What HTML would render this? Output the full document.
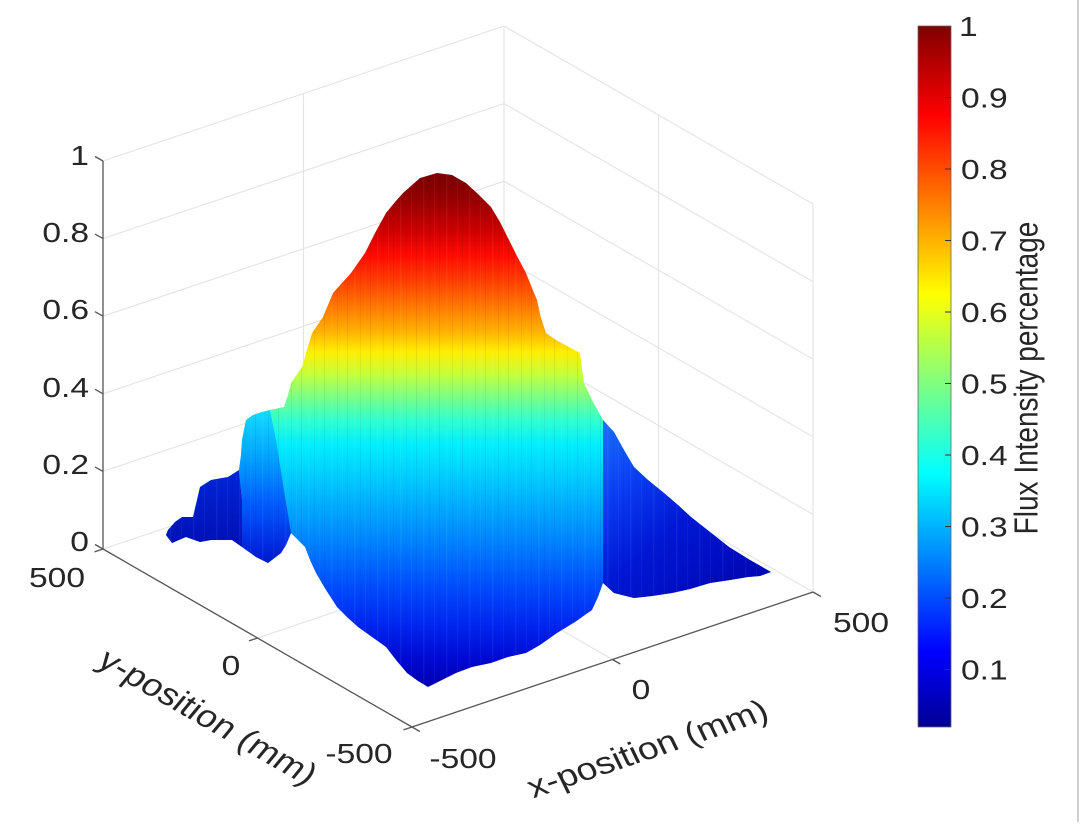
<!DOCTYPE html>
<html>
<head>
<meta charset="utf-8">
<style>
  html, body { margin:0; padding:0; background:#ffffff; }
  svg { display:block; }
  text { font-family: "Liberation Sans", Arial, Helvetica, sans-serif; fill:#262626; }
</style>
</head>
<body>
<svg width="1089" height="827" viewBox="0 0 1089 827" xmlns="http://www.w3.org/2000/svg">
  <defs>
    <linearGradient id="mainG" gradientUnits="userSpaceOnUse" x1="0" y1="173" x2="0" y2="690">
      <stop offset="0" stop-color="#780000"/>
      <stop offset="0.052" stop-color="#960000"/>
      <stop offset="0.110" stop-color="#cc0000"/>
      <stop offset="0.159" stop-color="#ff0a00"/>
      <stop offset="0.207" stop-color="#ff3c00"/>
      <stop offset="0.255" stop-color="#ff7400"/>
      <stop offset="0.304" stop-color="#ffae00"/>
      <stop offset="0.346" stop-color="#ffee00"/>
      <stop offset="0.390" stop-color="#c4ff3c"/>
      <stop offset="0.439" stop-color="#70ff8e"/>
      <stop offset="0.478" stop-color="#30ffcf"/>
      <stop offset="0.526" stop-color="#00eeff"/>
      <stop offset="0.584" stop-color="#00ceff"/>
      <stop offset="0.652" stop-color="#00a6ff"/>
      <stop offset="0.720" stop-color="#007eff"/>
      <stop offset="0.797" stop-color="#004eff"/>
      <stop offset="0.874" stop-color="#0026f0"/>
      <stop offset="0.942" stop-color="#0008d2"/>
      <stop offset="1" stop-color="#0000ae"/>
    </linearGradient>
    <linearGradient id="ridgeG" gradientUnits="userSpaceOnUse" x1="0" y1="410" x2="0" y2="563">
      <stop offset="0" stop-color="#14dcff"/>
      <stop offset="0.33" stop-color="#009eff"/>
      <stop offset="0.59" stop-color="#0060ff"/>
      <stop offset="0.85" stop-color="#0030e6"/>
      <stop offset="1" stop-color="#0018cc"/>
    </linearGradient>
    <linearGradient id="plateauG" gradientUnits="userSpaceOnUse" x1="0" y1="470" x2="0" y2="545">
      <stop offset="0" stop-color="#0026d8"/>
      <stop offset="1" stop-color="#0010b8"/>
    </linearGradient>
    <linearGradient id="wingG" gradientUnits="userSpaceOnUse" x1="600" y1="430" x2="730" y2="585">
      <stop offset="0" stop-color="#1a6cff"/>
      <stop offset="0.3" stop-color="#0a3cf2"/>
      <stop offset="0.6" stop-color="#0018d6"/>
      <stop offset="1" stop-color="#0008b8"/>
    </linearGradient>
    <linearGradient id="cbarG" x1="0" y1="0" x2="0" y2="1">
      <stop offset="0" stop-color="#800000"/>
      <stop offset="0.1276" stop-color="#ff0000"/>
      <stop offset="0.3827" stop-color="#ffff00"/>
      <stop offset="0.6378" stop-color="#00ffff"/>
      <stop offset="0.8929" stop-color="#0000ff"/>
      <stop offset="1" stop-color="#000094"/>
    </linearGradient>
    <pattern id="streaks" patternUnits="userSpaceOnUse" width="23" height="827">
      <rect x="2" y="0" width="1" height="827" fill="#000040" opacity="0.07"/>
      <rect x="9" y="0" width="1.5" height="827" fill="#ffffff" opacity="0.05"/>
      <rect x="15" y="0" width="1" height="827" fill="#000040" opacity="0.05"/>
      <rect x="20" y="0" width="1" height="827" fill="#ffffff" opacity="0.04"/>
    </pattern>
    <clipPath id="surfClip">
      <path d="M437,173 L452,175 466,183 478,194 491,207 500,222 509,240 518,258 526,273 532,288 537,300 541,318 546,333 556,340 569,347 580,353 582,368 584,383 592,400 603,420 614,432 624,450 634,467 648,480 664,493 678,505 691,517 710,532 729,547 750,560 771,572 760,576 748,577 730,580 710,583 690,589 672,593 652,596 634,598 614,593 603,583 598,597 592,610 575,622 557,633 540,645 526,653 508,657 491,663 472,667 456,673 442,680 428,687 418,681 407,673 396,660 386,647 372,637 358,627 347,617 337,607 326,590 316,573 310,560 305,547 291,533 286,545 281,553 268,563 256,557 242,547 232,540 225,540 211,540 200,542 186,537 172,543 166,535 168,530 175,522 182,517 193,517 197,500 200,487 211,480 228,477 239,470 241,455 242,440 246,420 253,415 262,412 270,410 284,407 288,395 291,383 302,367 307,350 312,333 323,317 333,293 342,283 351,273 358,263 365,253 375,233 386,213 395,202 403,193 420,178 Z"/>
    </clipPath>
  </defs>

  <!-- right border line -->
  <line x1="1078" y1="0" x2="1078" y2="822" stroke="#d0d0d0" stroke-width="2"/>

  <!-- grid lines -->
  <g stroke="#e3e3e3" stroke-width="1.1" fill="none">
    <line x1="103" y1="549" x2="504" y2="414"/>
    <line x1="103" y1="471.4" x2="504" y2="336.4"/>
    <line x1="103" y1="393.8" x2="504" y2="258.8"/>
    <line x1="103" y1="316.2" x2="504" y2="181.2"/>
    <line x1="103" y1="238.6" x2="504" y2="103.6"/>
    <line x1="103" y1="161" x2="504" y2="26"/>
    <line x1="504" y1="414" x2="813" y2="592"/>
    <line x1="504" y1="336.4" x2="813" y2="514.4"/>
    <line x1="504" y1="258.8" x2="813" y2="436.8"/>
    <line x1="504" y1="181.2" x2="813" y2="359.2"/>
    <line x1="504" y1="103.6" x2="813" y2="281.6"/>
    <line x1="504" y1="26" x2="813" y2="204"/>
    <line x1="303.5" y1="481.5" x2="303.5" y2="93.5"/>
    <line x1="504" y1="414" x2="504" y2="26"/>
    <line x1="658.5" y1="503" x2="658.5" y2="115"/>
    <line x1="813" y1="592" x2="813" y2="204"/>
    <line x1="303.5" y1="481.5" x2="612.5" y2="659.5"/>
    <line x1="257.5" y1="638" x2="658.5" y2="503"/>
  </g>

  <!-- surface -->
  <path fill="url(#mainG)" d="M437,173 L452,175 466,183 478,194 491,207 500,222 509,240 518,258 526,273 532,288 537,300 541,318 546,333 556,340 569,347 580,353 582,368 584,383 592,400 603,420 614,432 624,450 634,467 648,480 664,493 678,505 691,517 710,532 729,547 750,560 771,572 760,576 748,577 730,580 710,583 690,589 672,593 652,596 634,598 614,593 603,583 598,597 592,610 575,622 557,633 540,645 526,653 508,657 491,663 472,667 456,673 442,680 428,687 418,681 407,673 396,660 386,647 372,637 358,627 347,617 337,607 326,590 316,573 310,560 305,547 291,533 286,545 281,553 268,563 256,557 242,547 232,540 225,540 211,540 200,542 186,537 172,543 166,535 168,530 175,522 182,517 193,517 197,500 200,487 211,480 228,477 239,470 241,455 242,440 246,420 253,415 262,412 270,410 284,407 288,395 291,383 302,367 307,350 312,333 323,317 333,293 342,283 351,273 358,263 365,253 375,233 386,213 395,202 403,193 420,178 Z"/>
  <path fill="url(#plateauG)" d="M166,535 L168,530 175,522 182,517 193,517 197,500 200,487 211,480 228,477 239,470 242,500 242,547 232,540 225,540 211,540 200,542 186,537 172,543 Z"/>
  <path fill="url(#ridgeG)" d="M239,470 L241,455 242,440 246,420 253,415 262,412 270,410 276,440 284,490 291,533 286,545 281,553 268,563 256,557 242,547 242,500 Z"/>
  <path fill="url(#wingG)" d="M603,420 L614,432 624,450 634,467 648,480 664,493 678,505 691,517 710,532 729,547 750,560 771,572 760,576 748,577 730,580 710,583 690,589 672,593 652,596 634,598 614,593 603,583 Z"/>
  <rect x="160" y="170" width="620" height="520" fill="url(#streaks)" clip-path="url(#surfClip)"/>

  <!-- axes lines -->
  <g stroke="#555555" stroke-width="1.3" fill="none">
    <line x1="103" y1="549" x2="103" y2="161"/>
    <line x1="103" y1="549" x2="412" y2="727"/>
    <line x1="412" y1="727" x2="813" y2="592"/>
    <line x1="103" y1="549" x2="95" y2="544.5"/>
    <line x1="103" y1="471.4" x2="95" y2="466.9"/>
    <line x1="103" y1="393.8" x2="95" y2="389.3"/>
    <line x1="103" y1="316.2" x2="95" y2="311.7"/>
    <line x1="103" y1="238.6" x2="95" y2="234.1"/>
    <line x1="103" y1="161" x2="95" y2="156.5"/>
    <line x1="103" y1="549" x2="94.5" y2="551.9"/>
    <line x1="257.5" y1="638" x2="249" y2="640.9"/>
    <line x1="412" y1="727" x2="403.5" y2="729.9"/>
    <line x1="412" y1="727" x2="419.8" y2="731.5"/>
    <line x1="612.5" y1="659.5" x2="620.3" y2="664"/>
    <line x1="813" y1="592" x2="820.8" y2="596.5"/>
  </g>

  <!-- z tick labels -->
  <g font-size="28" text-anchor="end">
    <text transform="translate(89,165) scale(1.2,1)">1</text>
    <text transform="translate(89,242) scale(1.2,1)">0.8</text>
    <text transform="translate(89,319) scale(1.2,1)">0.6</text>
    <text transform="translate(89,397) scale(1.2,1)">0.4</text>
    <text transform="translate(89,474) scale(1.2,1)">0.2</text>
    <text transform="translate(89,551) scale(1.2,1)">0</text>
  </g>
  <g font-size="28" text-anchor="middle">
    <text transform="translate(57,587) scale(1.2,1)">500</text>
    <text transform="translate(231,675) scale(1.2,1)">0</text>
    <text transform="translate(359,763) scale(1.2,1)">-500</text>
    <text transform="translate(463,768) scale(1.2,1)">-500</text>
    <text transform="translate(641,699) scale(1.2,1)">0</text>
    <text transform="translate(861,632) scale(1.2,1)">500</text>
  </g>

  <!-- axis labels -->
  <text font-size="31" text-anchor="middle" transform="translate(207,718) scale(1.2,1) rotate(34.6)" x="0" y="9">y-position (mm)</text>
  <text font-size="31" text-anchor="middle" transform="translate(648,750) scale(1.2,1) rotate(-22)" x="0" y="9">x-position (mm)</text>

  <!-- colorbar -->
  <rect x="918" y="26" width="33" height="701" fill="url(#cbarG)" stroke="#666666" stroke-width="0.8"/>
  <g stroke="#333333" stroke-width="1">
    <line x1="945" y1="97.5" x2="951" y2="97.5"/>
    <line x1="945" y1="169" x2="951" y2="169"/>
    <line x1="945" y1="240.5" x2="951" y2="240.5"/>
    <line x1="945" y1="312" x2="951" y2="312"/>
    <line x1="945" y1="383.5" x2="951" y2="383.5"/>
    <line x1="945" y1="455" x2="951" y2="455"/>
    <line x1="945" y1="526.5" x2="951" y2="526.5"/>
    <line x1="945" y1="598" x2="951" y2="598"/>
    <line x1="945" y1="669.5" x2="951" y2="669.5"/>
  </g>
  <g font-size="28" text-anchor="start">
    <text transform="translate(959,36) scale(1.2,1)">1</text>
    <text transform="translate(961,107.5) scale(1.2,1)">0.9</text>
    <text transform="translate(961,179) scale(1.2,1)">0.8</text>
    <text transform="translate(961,250.5) scale(1.2,1)">0.7</text>
    <text transform="translate(961,322) scale(1.2,1)">0.6</text>
    <text transform="translate(961,393.5) scale(1.2,1)">0.5</text>
    <text transform="translate(961,465) scale(1.2,1)">0.4</text>
    <text transform="translate(961,536.5) scale(1.2,1)">0.3</text>
    <text transform="translate(961,608) scale(1.2,1)">0.2</text>
    <text transform="translate(961,679.5) scale(1.2,1)">0.1</text>
  </g>
  <text font-size="28" text-anchor="middle" transform="translate(1028,378) scale(1.2,1) rotate(-90)" x="0" y="8">Flux Intensity percentage</text>
</svg>
</body>
</html>
